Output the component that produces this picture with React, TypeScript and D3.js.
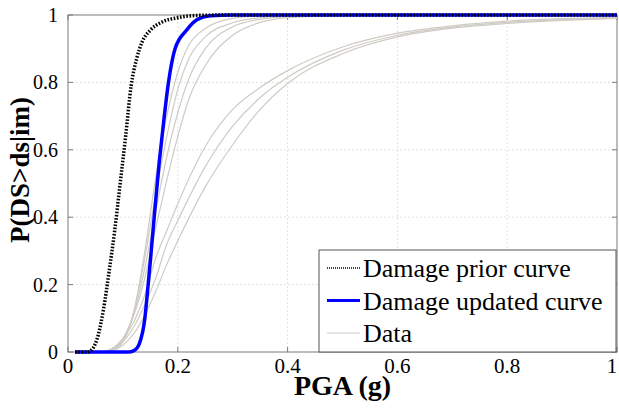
import React, { useEffect, useRef } from 'react';
import * as d3 from 'd3';

// tick values for both axes
const pgaTicks = [0, 0.2, 0.4, 0.6, 0.8, 1];
const probTicks = [0, 0.2, 0.4, 0.6, 0.8, 1];

// [PGA (g), P(DS>ds|im)]
const priorCurve: [number, number][] = [
  [0.013, 0], [0.035, 0], [0.045, 0.01], [0.055, 0.05], [0.065, 0.13], [0.075, 0.24],
  [0.085, 0.36], [0.095, 0.5], [0.105, 0.64], [0.115, 0.79], [0.125, 0.87], [0.135, 0.92],
  [0.15, 0.955], [0.17, 0.978], [0.2, 0.992], [0.24, 0.999], [0.3, 1], [1, 1],
];

const updatedCurve: [number, number][] = [
  [0.013, 0], [0.11, 0], [0.12, 0.004], [0.13, 0.025], [0.14, 0.1], [0.146, 0.2],
  [0.15, 0.27], [0.157, 0.4], [0.166, 0.56], [0.174, 0.68], [0.183, 0.8], [0.195, 0.9],
  [0.216, 0.955], [0.234, 0.985], [0.26, 0.998], [0.3, 1], [1, 1],
];

const dataCurves: [number, number][][] = [
  [[0.013, 0], [0.06, 0], [0.08, 0.005], [0.1, 0.03], [0.12, 0.12], [0.14, 0.3], [0.16, 0.52],
   [0.18, 0.7], [0.2, 0.83], [0.22, 0.91], [0.25, 0.96], [0.3, 0.99], [0.35, 0.997], [0.5, 1], [1, 1]],
  [[0.013, 0], [0.06, 0], [0.08, 0.006], [0.1, 0.035], [0.12, 0.12], [0.14, 0.28], [0.16, 0.47],
   [0.18, 0.64], [0.2, 0.78], [0.22, 0.87], [0.25, 0.935], [0.3, 0.977], [0.35, 0.992], [0.4, 0.997], [0.5, 1], [1, 1]],
  [[0.013, 0], [0.06, 0], [0.08, 0.007], [0.1, 0.038], [0.12, 0.115], [0.14, 0.25], [0.16, 0.42],
   [0.18, 0.58], [0.2, 0.71], [0.22, 0.81], [0.25, 0.9], [0.3, 0.965], [0.35, 0.987], [0.4, 0.995], [0.5, 0.999], [1, 1]],
  [[0.013, 0], [0.06, 0], [0.08, 0.008], [0.1, 0.04], [0.12, 0.11], [0.14, 0.22], [0.16, 0.37],
   [0.18, 0.51], [0.2, 0.64], [0.22, 0.75], [0.25, 0.85], [0.3, 0.94], [0.35, 0.978], [0.4, 0.992], [0.5, 0.999], [1, 1]],
  [[0.013, 0], [0.06, 0], [0.08, 0.01], [0.1, 0.04], [0.12, 0.09], [0.14, 0.17], [0.16, 0.28],
   [0.18, 0.36], [0.2, 0.44], [0.25, 0.61], [0.3, 0.72], [0.35, 0.785], [0.4, 0.835], [0.5, 0.905],
   [0.6, 0.946], [0.7, 0.968], [0.8, 0.982], [0.9, 0.989], [1, 0.993]],
  [[0.013, 0], [0.06, 0], [0.08, 0.006], [0.1, 0.03], [0.12, 0.075], [0.14, 0.14], [0.16, 0.22],
   [0.18, 0.32], [0.2, 0.39], [0.25, 0.55], [0.3, 0.67], [0.35, 0.755], [0.4, 0.815], [0.5, 0.895],
   [0.6, 0.94], [0.7, 0.964], [0.8, 0.978], [0.9, 0.986], [1, 0.991]],
  [[0.013, 0], [0.06, 0], [0.08, 0.004], [0.1, 0.02], [0.12, 0.055], [0.14, 0.11], [0.16, 0.18],
   [0.18, 0.26], [0.2, 0.33], [0.25, 0.49], [0.3, 0.615], [0.35, 0.72], [0.4, 0.797], [0.5, 0.885],
   [0.6, 0.935], [0.7, 0.961], [0.8, 0.975], [0.9, 0.984], [1, 0.99]],
];

const legendLabels = ['Damage prior curve', 'Damage updated curve', 'Data'];

const W = 619;
const H = 410;
const axisColor = '#7a7a7a';
const gridColor = '#e2e2e2';
const dataColor = '#cfcbc5';
const serif = '"Liberation Serif", "Times New Roman", serif';

export default function App() {
  const svgRef = useRef<SVGSVGElement>(null);

  useEffect(() => {
    const svg = d3.select(svgRef.current);
    svg.selectAll('*').remove();

    const x = d3.scaleLinear().domain([0, 1]).range([68, 617]);
    const y = d3.scaleLinear().domain([0, 1]).range([352, 15]);
    const [x0, x1] = x.range();
    const [y0, y1] = y.range();

    // grid
    const grid = svg.append('g');
    grid.selectAll('line.gx')
      .data(pgaTicks.slice(1, -1))
      .enter()
      .append('line')
      .attr('x1', d => x(d)).attr('x2', d => x(d))
      .attr('y1', y0).attr('y2', y1)
      .attr('stroke', gridColor)
      .attr('stroke-dasharray', '2,2');
    grid.selectAll('line.gy')
      .data(probTicks.slice(1, -1))
      .enter()
      .append('line')
      .attr('y1', d => y(d)).attr('y2', d => y(d))
      .attr('x1', x0).attr('x2', x1)
      .attr('stroke', gridColor)
      .attr('stroke-dasharray', '2,2');

    // box and inward ticks
    svg.append('rect')
      .attr('x', x0).attr('y', y1)
      .attr('width', x1 - x0).attr('height', y0 - y1)
      .attr('fill', 'none')
      .attr('stroke', axisColor);

    const ticks = svg.append('g').attr('stroke', axisColor);
    pgaTicks.forEach(t => {
      ticks.append('line').attr('x1', x(t)).attr('x2', x(t)).attr('y1', y0).attr('y2', y0 - 5);
      ticks.append('line').attr('x1', x(t)).attr('x2', x(t)).attr('y1', y1).attr('y2', y1 + 5);
    });
    probTicks.forEach(t => {
      ticks.append('line').attr('y1', y(t)).attr('y2', y(t)).attr('x1', x0).attr('x2', x0 + 5);
      ticks.append('line').attr('y1', y(t)).attr('y2', y(t)).attr('x1', x1).attr('x2', x1 - 5);
    });

    // tick labels (the last one is nudged so it stays on the page)
    svg.append('g')
      .selectAll('text')
      .data(pgaTicks)
      .enter()
      .append('text')
      .attr('x', d => (d === 1 ? x(d) - 5 : x(d)))
      .attr('y', 373)
      .attr('text-anchor', 'middle')
      .attr('font-family', serif)
      .attr('font-size', 21)
      .text(d => String(d));

    svg.append('g')
      .selectAll('text')
      .data(probTicks)
      .enter()
      .append('text')
      .attr('x', 58)
      .attr('y', d => y(d) + 7)
      .attr('text-anchor', 'end')
      .attr('font-family', serif)
      .attr('font-size', 20)
      .text(d => String(d));

    // axis labels
    svg.append('text')
      .attr('x', (x0 + x1) / 2)
      .attr('y', 395)
      .attr('text-anchor', 'middle')
      .attr('font-family', serif)
      .attr('font-size', 28)
      .attr('font-weight', 'bold')
      .text('PGA (g)');

    svg.append('text')
      .attr('transform', 'translate(29,170) rotate(-90)')
      .attr('text-anchor', 'middle')
      .attr('font-family', serif)
      .attr('font-size', 27)
      .attr('font-weight', 'bold')
      .text('P(DS>ds|im)');

    const line = d3.line<[number, number]>()
      .x(d => x(d[0]))
      .y(d => y(d[1]))
      .curve(d3.curveMonotoneX);

    // data curves
    svg.append('g')
      .selectAll('path')
      .data(dataCurves)
      .enter()
      .append('path')
      .attr('d', d => line(d))
      .attr('fill', 'none')
      .attr('stroke', dataColor)
      .attr('stroke-width', 1.2);

    svg.append('path')
      .attr('d', line(updatedCurve))
      .attr('fill', 'none')
      .attr('stroke', '#0000ff')
      .attr('stroke-width', 3.5);

    svg.append('path')
      .attr('d', line(priorCurve))
      .attr('fill', 'none')
      .attr('stroke', '#000')
      .attr('stroke-width', 3.5)
      .attr('stroke-dasharray', '1.6,1.6');

    // legend
    const lg = svg.append('g');
    lg.append('rect')
      .attr('x', 319).attr('y', 250)
      .attr('width', 297).attr('height', 102)
      .attr('fill', '#fff')
      .attr('stroke', '#555');

    const styles = [
      { stroke: '#000', width: 1.5, dash: '1,1' },
      { stroke: '#0000ff', width: 3, dash: null },
      { stroke: dataColor, width: 1.2, dash: null },
    ];

    legendLabels.forEach((label, i) => {
      const cy = 268 + i * 32.5;
      lg.append('line')
        .attr('x1', 327).attr('x2', 360)
        .attr('y1', cy).attr('y2', cy)
        .attr('stroke', styles[i].stroke)
        .attr('stroke-width', styles[i].width)
        .attr('stroke-dasharray', styles[i].dash);
      lg.append('text')
        .attr('x', 363)
        .attr('y', cy + 9)
        .attr('font-family', serif)
        .attr('font-size', 26)
        .text(label);
    });
  }, []);

  return (
    <svg
      ref={svgRef}
      width={W}
      height={H}
      style={{ position: 'absolute', left: 0, top: 0, background: '#fff' }}
    />
  );
}
